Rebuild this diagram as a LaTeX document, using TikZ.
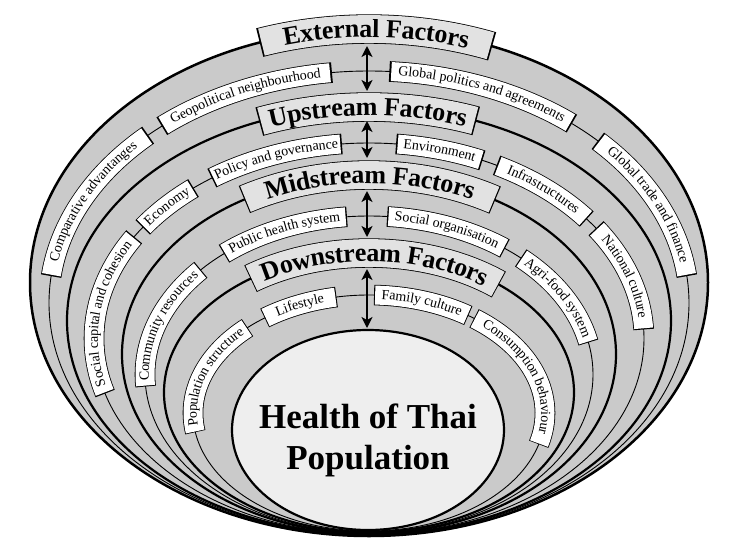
\documentclass[tikz,border=0pt]{standalone}
\usepackage{fontspec}
\setmainfont{Liberation Serif}
\usetikzlibrary{decorations.text,arrows.meta}
\definecolor{bandgray}{RGB}{202,202,202}
\definecolor{corefill}{RGB}{238,238,238}
\definecolor{titlefill}{RGB}{226,226,226}
\newcommand\lblfont{\fontsize{14}{14}\selectfont}
\newcommand\ttlfont{\fontsize{26}{26}\selectfont\bfseries}
% factor label box along an ellipse (centred at origin of current scope)
\newcommand\factorbox[5]{%
  \pgfmathsetmacro\tA{#3+0.35}%
  \pgfmathsetmacro\tB{#4-0.35}%
  \draw[black,line width=20.6pt] (\tA:#1pt and #2pt) arc[start angle=\tA,end angle=\tB,x radius=#1pt,y radius=#2pt];
  \draw[white,line width=19pt] (#3:#1pt and #2pt) arc[start angle=#3,end angle=#4,x radius=#1pt,y radius=#2pt];
  \path[decorate,decoration={text along path,text align=center,raise=-3.8pt,text={|\lblfont|#5}}] (#3:#1pt and #2pt) arc[start angle=#3,end angle=#4,x radius=#1pt,y radius=#2pt];
}
\newcommand\titlebox[5]{%
  \pgfmathsetmacro\tA{#3+0.3}%
  \pgfmathsetmacro\tB{#4-0.3}%
  \draw[black,line width=29.4pt] (\tA:#1pt and #2pt) arc[start angle=\tA,end angle=\tB,x radius=#1pt,y radius=#2pt];
  \draw[titlefill,line width=27.8pt] (#3:#1pt and #2pt) arc[start angle=#3,end angle=#4,x radius=#1pt,y radius=#2pt];
  \path[decorate,decoration={text along path,text align=center,raise=-8.3pt,text={|\ttlfont|#5}}] (#3:#1pt and #2pt) arc[start angle=#3,end angle=#4,x radius=#1pt,y radius=#2pt];
}
\tikzset{
  thickring/.style={draw=black,line width=2.2pt,fill=bandgray},
  thinring/.style={draw=black,line width=0.9pt},
  dblarrow/.style={{Stealth[length=11pt,width=11pt,inset=3pt]}-{Stealth[length=11pt,width=11pt,inset=3pt]},line width=1.8pt}
}
\begin{document}
\begin{tikzpicture}[x=1pt,y=1pt]
\useasboundingbox (0,0) rectangle (732,-547);
% rings
\path[thickring,line width=2.5pt] (369,-282.5) ellipse[x radius=339pt,y radius=253.5pt];
\path[thinring] (369,-303) ellipse[x radius=320pt,y radius=232pt];
\path[thickring] (369,-320.75) ellipse[x radius=302pt,y radius=213.75pt];
\path[thinring] (369,-338.5) ellipse[x radius=275pt,y radius=195.5pt];
\path[thickring] (369,-354.25) ellipse[x radius=247pt,y radius=179.25pt];
\path[thinring] (369,-374.5) ellipse[x radius=224pt,y radius=158.5pt];
\path[thickring] (369,-392.5) ellipse[x radius=205pt,y radius=139.5pt];
\path[thinring] (369,-413) ellipse[x radius=176pt,y radius=118pt];
\path[thickring,fill=corefill] (368,-430) ellipse[x radius=136pt,y radius=100pt];
% external
\begin{scope}[shift={(369,-282.5)}]
  \titlebox{339}{253.5}{108.5}{69}{External Factors}
\end{scope}
\begin{scope}[shift={(369,-303)}]
  \factorbox{320}{232}{173}{134}{Comparative advantanges}
  \factorbox{320}{232}{130}{97}{Geopolitical neighbourhood}
  \factorbox{320}{232}{86}{51}{Global politics and agreements}
  \factorbox{320}{232}{44}{7}{Global trade and finance}
\end{scope}
% upstream
\begin{scope}[shift={(369,-320.75)}]
  \titlebox{302}{213.75}{111}{69.5}{Upstream Factors}
\end{scope}
\begin{scope}[shift={(369,-338.5)}]
  \factorbox{275}{195.5}{196}{149}{Social capital and cohesion}
  \factorbox{275}{195.5}{145}{130}{Economy}
  \factorbox{275}{195.5}{124.5}{96}{Policy and governance}
  \factorbox{275}{195.5}{84}{66}{Environment}
  \factorbox{275}{195.5}{62}{38}{Infrastructures}
  \factorbox{275}{195.5}{34}{3}{National culture}
\end{scope}
% midstream
\begin{scope}[shift={(369,-354.25)}]
  \titlebox{247}{179.25}{120}{59.6}{Midstream Factors}
\end{scope}
\begin{scope}[shift={(369,-374.5)}]
  \factorbox{224}{158.5}{184}{139}{Community resources}
  \factorbox{224}{158.5}{130}{96}{Public health system}
  \factorbox{224}{158.5}{85}{53}{Social organisation}
  \factorbox{224}{158.5}{47}{12}{Agri-food system}
\end{scope}
% downstream
\begin{scope}[shift={(369,-392.5)}]
  \titlebox{205}{139.5}{125}{51}{Downstream Factors}
\end{scope}
\begin{scope}[shift={(369,-413)}]
  \factorbox{176}{118}{189}{134}{Population structure}
  \factorbox{176}{118}{126}{101}{Lifestyle}
  \factorbox{176}{118}{88}{56}{Family culture}
  \factorbox{176}{118}{53}{-15}{Consumption behaviour}
\end{scope}
% core
\node[font=\fontsize{35}{41}\selectfont\bfseries,align=center] (core) at (368,-440) {Health of Thai\\Population};
% arrows between levels
\coordinate (extB) at (367,-46);
\coordinate (upT) at (367,-91);
\coordinate (upB) at (367,-121);
\coordinate (midT) at (367,-158);
\coordinate (midB) at (367,-191);
\coordinate (downT) at (367,-237);
\coordinate (downB) at (367,-269);
\coordinate (coreT) at (367,-328);
\draw[dblarrow] (extB) -- (upT);
\draw[dblarrow] (upB) -- (midT);
\draw[dblarrow] (midB) -- (downT);
\draw[dblarrow] (downB) -- (coreT);
\end{tikzpicture}
\end{document}
